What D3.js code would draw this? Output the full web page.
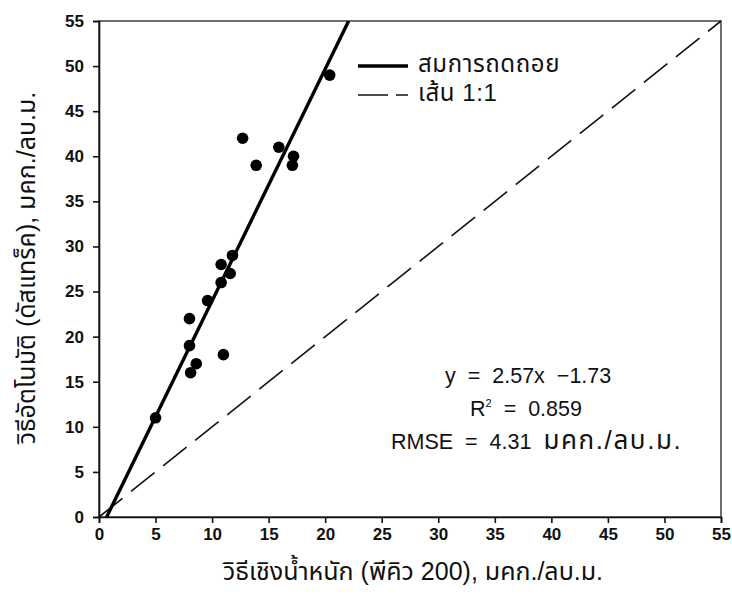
<!DOCTYPE html>
<html>
<head>
<meta charset="utf-8">
<script src="https://cdn.jsdelivr.net/npm/d3@7"></script>
<style>
  body { margin: 0; background: #fff; }
  svg text { font-family: "Liberation Sans", Arial, "Noto Sans Thai", sans-serif; fill: #111; }
</style>
</head>
<body>
<div id="chart"></div>
<script>
// measured values (x: gravimetric PQ200, y: DustTrak)
const xValues = [5, 8, 8.6, 8.1, 11, 8, 9.6, 10.8, 10.8, 11.6, 11.8, 12.7, 13.9, 15.9, 17.2, 17.1, 20.4];
const yValues = [11, 19, 17, 16, 18, 22, 24, 26, 28, 27, 29, 42, 39, 41, 40, 39, 49];
const tickValues = [0, 5, 10, 15, 20, 25, 30, 35, 40, 45, 50, 55];
const slope = 2.57;
const intercept = -1.73;
const legendLabels = ["สมการถดถอย", "เส้น 1:1"];
const unitLabel = "มคก./ลบ.ม.";
const xTitle = "วิธีเชิงน้ำหนัก (พีคิว 200), มคก./ลบ.ม.";
const yTitle = "วิธีอัตโนมัติ (ดัสแทร็ค), มคก./ลบ.ม.";

const margin = {top: 21, right: 11, bottom: 91, left: 99};
const width = 732 - margin.left - margin.right;
const height = 608 - margin.top - margin.bottom;

const svg = d3.select("#chart")
    .append("svg")
    .attr("width", 732)
    .attr("height", 608);

const g = svg.append("g")
    .attr("transform", `translate(${margin.left},${margin.top})`);

const x = d3.scaleLinear().domain([0, 55]).range([0, width]);
const y = d3.scaleLinear().domain([0, 55]).range([height, 0]);

// frame
g.append("rect")
    .attr("width", width)
    .attr("height", height)
    .attr("fill", "none")
    .attr("stroke", "#222")
    .attr("stroke-width", 1.3);

const xAxis = g.append("g")
    .attr("transform", `translate(0,${height})`)
    .call(d3.axisBottom(x).tickValues(tickValues).tickSize(6).tickPadding(5));

const yAxis = g.append("g")
    .call(d3.axisLeft(y).tickValues(tickValues).tickSize(6).tickPadding(9));

[xAxis, yAxis].forEach(ax => {
    ax.select(".domain").attr("stroke", "#111").attr("stroke-width", 1.6);
    ax.selectAll(".tick line").attr("stroke", "#111").attr("stroke-width", 1.6);
    ax.selectAll(".tick text")
        .style("font-family", "'Liberation Sans', Arial, sans-serif")
        .style("font-size", "17px")
        .style("font-weight", "bold")
        .attr("fill", "#111");
});

svg.append("clipPath").attr("id", "plot-clip")
    .append("rect").attr("width", width).attr("height", height);

// 1:1 line
g.append("line")
    .attr("x1", x(0)).attr("y1", y(0))
    .attr("x2", x(55)).attr("y2", y(55))
    .attr("stroke", "#111")
    .attr("stroke-width", 1.6)
    .attr("stroke-dasharray", "30,11");

// regression line, from y = 0 up to the top of the plot
const xStart = (0 - intercept) / slope;
const xEnd = (55 - intercept) / slope;
g.append("line")
    .attr("clip-path", "url(#plot-clip)")
    .attr("x1", x(xStart)).attr("y1", y(slope * xStart + intercept))
    .attr("x2", x(xEnd)).attr("y2", y(slope * xEnd + intercept))
    .attr("stroke", "#000")
    .attr("stroke-width", 3.4);

// points
g.selectAll("circle.pt")
    .data(xValues.map((v, i) => [v, yValues[i]]))
    .join("circle")
    .attr("class", "pt")
    .attr("cx", d => x(d[0]))
    .attr("cy", d => y(d[1]))
    .attr("r", 5.8)
    .attr("fill", "#000");

// legend
const legend = svg.append("g").attr("transform", "translate(358,66)");
legend.append("line")
    .attr("x1", 0).attr("x2", 50)
    .attr("stroke", "#000").attr("stroke-width", 3.4);
legend.append("line")
    .attr("x1", 0).attr("x2", 50)
    .attr("y1", 29).attr("y2", 29)
    .attr("stroke", "#111").attr("stroke-width", 1.6)
    .attr("stroke-dasharray", "30,8");
legend.selectAll("text")
    .data(legendLabels)
    .join("text")
    .attr("x", 60)
    .attr("y", (d, i) => i * 29 + 6)
    .style("font-size", "24px")
    .style("letter-spacing", "0.6px")
    .text(d => d);

// statistics
const stats = svg.append("g")
    .style("font-size", "21.5px")
    .style("word-spacing", "6px");
stats.append("text")
    .attr("x", 445).attr("y", 383)
    .text("y = 2.57x \u22121.73");
const r2 = stats.append("text")
    .attr("x", 470).attr("y", 416);
r2.append("tspan").text("R");
r2.append("tspan").attr("dy", -9).style("font-size", "11px").text("2");
r2.append("tspan").attr("dy", 9).text(" = 0.859");
const rmse = stats.append("text")
    .attr("x", 391).attr("y", 449);
rmse.append("tspan").text("RMSE = 4.31 ");
rmse.append("tspan")
    .style("font-size", "26px")
    .style("letter-spacing", "1.6px")
    .text(unitLabel);

// axis titles
svg.append("text")
    .attr("x", margin.left + width / 2 + 3)
    .attr("y", 580)
    .attr("text-anchor", "middle")
    .style("font-size", "25px")
    .text(xTitle);

svg.append("text")
    .attr("transform", "rotate(-90)")
    .attr("x", -268)
    .attr("y", 35)
    .attr("text-anchor", "middle")
    .style("font-size", "25px")
    .text(yTitle);
</script>
</body>
</html>
